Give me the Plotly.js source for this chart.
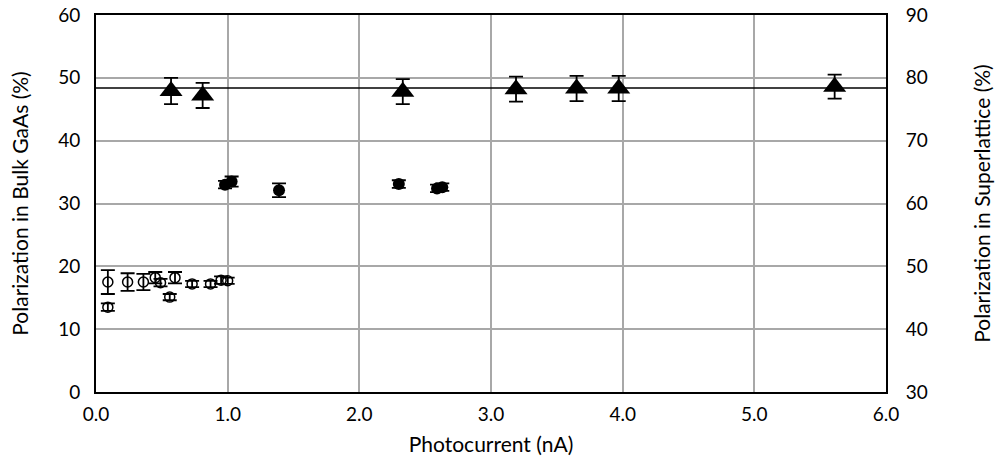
<!DOCTYPE html>
<html>
<head>
<meta charset="utf-8">
<script src="https://cdn.plot.ly/plotly-3.0.1.min.js"></script>
<style>html,body{margin:0;padding:0;background:#fff;}#chart{width:998px;height:474px;}</style>
</head>
<body>
<div id="chart"></div>
<script>
// Open circles (bulk GaAs, left axis)
var openX = [0.09, 0.09, 0.24, 0.36, 0.45, 0.49, 0.56, 0.60, 0.73, 0.87, 0.95, 1.00];
var openY = [17.5, 13.5, 17.5, 17.5, 18.2, 17.4, 15.1, 18.2, 17.2, 17.2, 17.8, 17.7];
var openErr = [1.9, 0.6, 1.4, 1.3, 0.9, 0.6, 0.5, 0.9, 0.5, 0.5, 0.6, 0.5];

// Filled circles (bulk GaAs, left axis)
var fillX = [0.98, 1.03, 1.39, 2.30, 2.59, 2.63];
var fillY = [33.0, 33.5, 32.1, 33.1, 32.4, 32.6];
var fillErr = [0.6, 0.8, 1.1, 0.6, 0.6, 0.6];

// Triangles (superlattice, right axis)
var triX = [0.57, 0.81, 2.33, 3.19, 3.65, 3.97, 5.61];
var triY = [77.9, 77.2, 77.8, 78.2, 78.3, 78.3, 78.6];
var triErr = [2.1, 2.0, 2.0, 2.0, 2.0, 2.0, 1.9];

// Mean line (right axis)
var meanX = [0, 6];
var meanY = [78.4, 78.4];

var xTicks = [0, 1, 2, 3, 4, 5, 6];
var leftTicks = [0, 10, 20, 30, 40, 50, 60];
var rightTicks = [30, 40, 50, 60, 70, 80, 90];

var errStyle = function(arr){ return {type:'data', array:arr, visible:true, color:'#000', thickness:1.8, width:7}; };

var traces = [
  {x: meanX, y: meanY, yaxis:'y2', mode:'lines', line:{color:'#000', width:1.5}, hoverinfo:'skip', showlegend:false},
  {x: openX, y: openY, mode:'markers', marker:{symbol:'circle-open', size:10, color:'#000', line:{width:1.5, color:'#000'}}, error_y: errStyle(openErr), showlegend:false},
  {x: fillX, y: fillY, mode:'markers', marker:{symbol:'circle', size:12, color:'#000'}, error_y: errStyle(fillErr), showlegend:false},
  {x: triX, y: triY, yaxis:'y2', mode:'markers', marker:{symbol:'triangle-up', size:20, color:'#000'}, error_y: errStyle(triErr), showlegend:false}
];

var fam = 'Lato, "Open Sans", sans-serif';
var tickF = {family:fam, size:19, color:'#000'};
var titleF = {family:fam, size:21, color:'#000'};

var layout = {
  width: 998, height: 474,
  margin: {l:96, r:112, t:15, b:82},
  paper_bgcolor:'#fff', plot_bgcolor:'#fff',
  font: tickF,
  xaxis: {
    range:[0,6], tickvals: xTicks, tickformat:'.1f', showgrid:true, gridcolor:'#a8a8a8', gridwidth:2,
    showline:true, linecolor:'#000', linewidth:2, mirror:true, zeroline:false, ticks:'', ticklabelstandoff:4,
    tickfont:tickF, automargin:false, title:{text:'Photocurrent (nA)', font:titleF, standoff:14}
  },
  yaxis: {
    range:[0,60], tickvals: leftTicks, showgrid:true, gridcolor:'#a8a8a8', gridwidth:2,
    showline:true, linecolor:'#000', linewidth:2, zeroline:false, ticks:'', ticklabelstandoff:10,
    tickfont:tickF, automargin:false, title:{text:'Polarization in Bulk GaAs (%)', font:titleF, standoff:24}
  },
  yaxis2: {
    range:[30,90], tickvals: rightTicks, overlaying:'y', side:'right', showgrid:false,
    showline:true, linecolor:'#000', linewidth:2, zeroline:false, ticks:'', ticklabelstandoff:14,
    tickfont:tickF, automargin:false, title:{text:'Polarization in Superlattice (%)', font:titleF, standoff:48}
  }
};

Plotly.newPlot('chart', traces, layout, {displayModeBar:false, staticPlot:true});
</script>
</body>
</html>
